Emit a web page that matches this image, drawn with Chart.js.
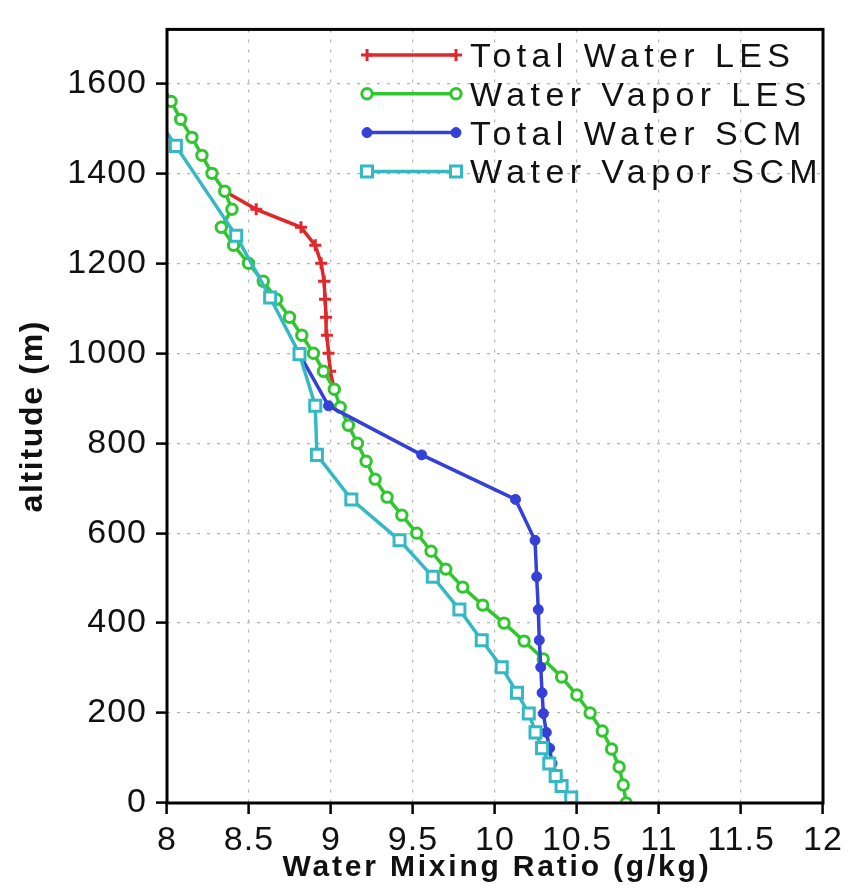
<!DOCTYPE html>
<html>
<head>
<meta charset="utf-8">
<script src="https://cdn.jsdelivr.net/npm/chart.js@4.4.1/dist/chart.umd.min.js"></script>
<style>
  html, body { margin: 0; padding: 0; background: #ffffff; }
  #wrap { width: 850px; height: 888px; }
</style>
</head>
<body>
<div id="wrap"><canvas id="c" width="850" height="888"></canvas></div>
<script>
// ---------------- data ----------------
const xTickValues = [8, 8.5, 9, 9.5, 10, 10.5, 11, 11.5, 12];
const xTickLabels = ['8', '8.5', '9', '9.5', '10', '10.5', '11', '11.5', '12'];
const yTickValues = [0, 200, 400, 600, 800, 1000, 1200, 1400, 1600];
const yTickLabels = ['0', '200', '400', '600', '800', '1000', '1200', '1400', '1600'];

const seriesNames = ['Total Water LES', 'Water Vapor LES', 'Total Water SCM', 'Water Vapor SCM'];

// LES levels (m)
const lesAltitude = [0, 40, 80, 120, 160, 200, 240, 280, 320, 360, 400, 440, 480, 520, 560, 600,
  640, 680, 720, 760, 800, 840, 880, 920, 960, 1000, 1040, 1080, 1120, 1160, 1200, 1240, 1280,
  1320, 1360, 1400, 1440, 1480, 1520, 1560, 1600];
const waterVaporLES = [10.800, 10.782, 10.757, 10.711, 10.654, 10.580, 10.499, 10.406, 10.294,
  10.177, 10.055, 9.925, 9.803, 9.700, 9.610, 9.523, 9.432, 9.342, 9.269, 9.214, 9.161, 9.106,
  9.056, 9.020, 8.954, 8.893, 8.822, 8.747, 8.668, 8.587, 8.497, 8.406, 8.331, 8.396, 8.352,
  8.274, 8.213, 8.152, 8.083, 8.025, 7.965];

// LES cloud layer levels (m) where total water differs from vapor
const lesCloudAltitude = [920, 960, 1000, 1040, 1080, 1120, 1160, 1200, 1240, 1280, 1320, 1360];
const totalWaterLES = [9.020, 8.995, 8.985, 8.975, 8.970, 8.964, 8.958, 8.940, 8.904, 8.817, 8.544, 8.352];

// SCM levels (m)
const scmAltitude = [12, 38, 60, 88, 122, 157, 199, 245, 302, 362, 430, 503, 584, 675, 774, 883,
  998, 1124, 1261, 1461, 1690];
const waterVaporSCM = [10.465, 10.406, 10.370, 10.331, 10.287, 10.247, 10.206, 10.134, 10.041,
  9.919, 9.783, 9.621, 9.418, 9.124, 8.914, 8.904, 8.808, 8.629, 8.422, 8.054, 7.630];
const totalWaterSCM = [10.465, 10.413, 10.378, 10.348, 10.333, 10.313, 10.295, 10.287, 10.279,
  10.270, 10.264, 10.254, 10.244, 10.125, 9.553, 8.985, 8.808];

// ---------------- build ----------------
const pairs = (xs, ys) => xs.map((v, i) => ({ x: v, y: ys[i] }));

const COLORS = {
  red: '#e0282c',
  green: '#2ec82e',
  blue: '#3440d8',
  cyan: '#34b9c4'
};

const datasets = [
  {
    label: seriesNames[0],
    data: pairs(totalWaterLES, lesCloudAltitude),
    borderColor: COLORS.red, backgroundColor: COLORS.red,
    borderWidth: 3.5, showLine: true,
    pointStyle: 'cross', pointRadius: 6, pointBorderWidth: 3,
    pointBorderColor: COLORS.red, order: 3
  },
  {
    label: seriesNames[1],
    data: pairs(waterVaporLES, lesAltitude),
    borderColor: COLORS.green, backgroundColor: '#ffffff',
    borderWidth: 3.5, showLine: true,
    pointStyle: 'circle', pointRadius: 5.2, pointBorderWidth: 3,
    pointBorderColor: COLORS.green, pointBackgroundColor: '#ffffff', order: 2
  },
  {
    label: seriesNames[2],
    data: pairs(totalWaterSCM, scmAltitude.slice(0, totalWaterSCM.length)),
    borderColor: COLORS.blue, backgroundColor: COLORS.blue,
    borderWidth: 3.5, showLine: true,
    pointStyle: 'circle', pointRadius: 5, pointBorderWidth: 1,
    pointBorderColor: COLORS.blue, pointBackgroundColor: COLORS.blue, order: 1
  },
  {
    label: seriesNames[3],
    data: pairs(waterVaporSCM, scmAltitude),
    borderColor: COLORS.cyan, backgroundColor: '#ffffff',
    borderWidth: 3.5, showLine: true,
    pointStyle: 'rect', pointRadius: 7.8, pointBorderWidth: 3,
    pointBorderColor: COLORS.cyan, pointBackgroundColor: '#ffffff', order: 0
  }
];

const TICK_FONT = { family: "'Liberation Sans', Arial, sans-serif", size: 34 };

const framePlugin = {
  id: 'frameAndLegend',
  beforeDraw(chart) {
    chart.ctx.letterSpacing = '1px';
  },
  afterDraw(chart) {
    const ctx = chart.ctx;
    const a = chart.chartArea;
    ctx.save();
    // frame
    ctx.lineWidth = 3;
    ctx.strokeStyle = '#000';
    ctx.setLineDash([]);
    ctx.strokeRect(a.left, a.top, a.right - a.left, a.bottom - a.top);

    // legend inside plot
    const x0 = 367, x1 = 456, textX = 470, rowY0 = 55, rowStep = 38.8;
    chart.data.datasets.forEach((ds, i) => {
      const y = rowY0 + i * rowStep;
      ctx.setLineDash([]);
      ctx.lineWidth = ds.borderWidth;
      ctx.strokeStyle = ds.borderColor;
      ctx.beginPath();
      ctx.moveTo(x0, y);
      ctx.lineTo(x1, y);
      ctx.stroke();
      [x0, x1].forEach(px => {
        ctx.fillStyle = ds.pointBackgroundColor || ds.backgroundColor;
        ctx.strokeStyle = ds.pointBorderColor;
        ctx.lineWidth = ds.pointBorderWidth;
        Chart.helpers.drawPoint(ctx, {
          pointStyle: ds.pointStyle, radius: ds.pointRadius, rotation: 0,
          borderWidth: ds.pointBorderWidth
        }, px, y);
      });
      ctx.fillStyle = '#111';
      ctx.font = "34px 'Liberation Sans', Arial, sans-serif";
      ctx.letterSpacing = '5.4px';
      ctx.textAlign = 'left';
      ctx.textBaseline = 'alphabetic';
      ctx.fillText(ds.label, textX, y + 12);
    });

    // axis titles
    ctx.fillStyle = '#111';
    ctx.font = "bold 30px 'Liberation Sans', Arial, sans-serif";
    ctx.letterSpacing = '2.8px';
    ctx.textAlign = 'center';
    ctx.textBaseline = 'alphabetic';
    ctx.fillText('Water Mixing Ratio (g/kg)', (a.left + a.right) / 2 + 2, 876);

    ctx.translate(42, (a.top + a.bottom) / 2);
    ctx.rotate(-Math.PI / 2);
    ctx.font = "bold 32px 'Liberation Sans', Arial, sans-serif";
    ctx.letterSpacing = '1.7px';
    ctx.fillText('altitude (m)', 0, 0);
    ctx.restore();
    ctx.letterSpacing = '0px';
  }
};

const gridCommon = {
  color: '#b4b4b4', lineWidth: 1.2, borderDash: [3, 7],
  tickLength: 11, tickWidth: 2.5, tickColor: '#000', tickBorderDash: []
};

new Chart(document.getElementById('c'), {
  type: 'scatter',
  data: { datasets },
  options: {
    responsive: false,
    animation: false,
    devicePixelRatio: 1,
    layout: { padding: { top: 10, right: 27, left: 0, bottom: 0 } },
    plugins: { legend: { display: false }, tooltip: { enabled: false } },
    scales: {
      x: {
        type: 'linear', position: 'bottom', min: 8, max: 12,
        afterFit(s) { s.height = 85; },
        afterBuildTicks(s) { s.ticks = xTickValues.map(v => ({ value: v })); },
        ticks: {
          callback: (v) => xTickLabels[xTickValues.indexOf(v)],
          font: TICK_FONT, color: '#111', padding: 6, maxRotation: 0, minRotation: 0, autoSkip: false
        },
        grid: gridCommon,
        border: { display: false, dash: [3, 7] },
        title: { display: false }
      },
      y: {
        type: 'linear', position: 'left', min: 0, max: 1720,
        afterFit(s) { s.width = 167; },
        afterBuildTicks(s) { s.ticks = yTickValues.map(v => ({ value: v })); },
        ticks: {
          callback: (v) => yTickLabels[yTickValues.indexOf(v)],
          font: TICK_FONT, color: '#111', padding: 9, autoSkip: false
        },
        grid: gridCommon,
        border: { display: false, dash: [3, 7] },
        title: { display: false }
      }
    }
  },
  plugins: [framePlugin]
});
</script>
</body>
</html>
